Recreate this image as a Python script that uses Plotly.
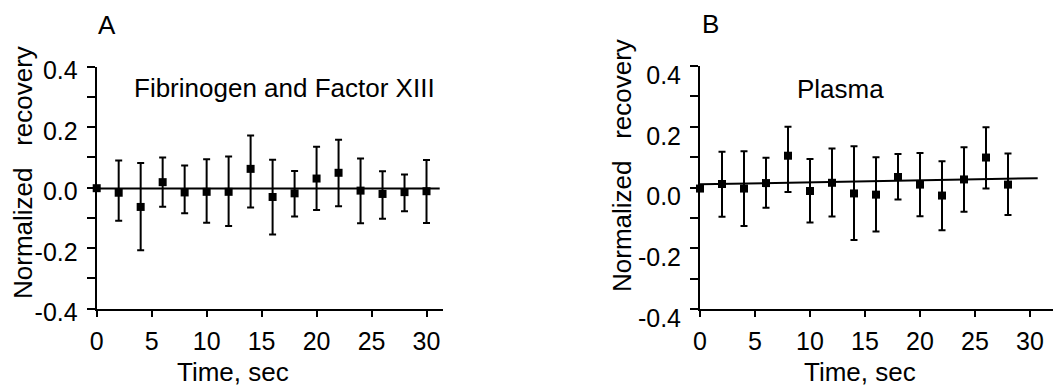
import plotly.graph_objects as go

# ---- data ----
time_a = [0, 2, 4, 6, 8, 10, 12, 14, 16, 18, 20, 22, 24, 26, 28, 30]
mean_a = [-0.002, -0.017, -0.064, 0.018, -0.016, -0.014, -0.014, 0.062, -0.031, -0.019,
          0.030, 0.049, -0.010, -0.021, -0.015, -0.012]
upper_a = [-0.002, 0.090, 0.081, 0.100, 0.073, 0.094, 0.103, 0.172, 0.092, 0.055,
           0.135, 0.158, 0.096, 0.054, 0.043, 0.091]
lower_a = [-0.002, -0.110, -0.207, -0.063, -0.085, -0.116, -0.127, -0.066, -0.155, -0.096,
           -0.074, -0.062, -0.118, -0.103, -0.078, -0.117]
fit_x_a = [0, 31.2]
fit_y_a = [-0.003, -0.003]

time_b = [0, 2, 4, 6, 8, 10, 12, 14, 16, 18, 20, 22, 24, 26, 28]
mean_b = [-0.003, 0.012, -0.003, 0.015, 0.105, -0.011, 0.016, -0.019, -0.023, 0.035,
          0.010, -0.026, 0.027, 0.099, 0.010]
upper_b = [-0.003, 0.118, 0.120, 0.098, 0.200, 0.094, 0.129, 0.136, 0.100, 0.111,
           0.114, 0.087, 0.133, 0.199, 0.112]
lower_b = [-0.003, -0.096, -0.126, -0.066, -0.014, -0.115, -0.095, -0.172, -0.144, -0.039,
           -0.094, -0.140, -0.079, -0.003, -0.090]
fit_x_b = [0, 30.7]
fit_y_b = [0.011, 0.031]

y_tickvals = [-0.4, -0.2, 0.0, 0.2, 0.4]
y_ticktext = ["-0.4", "-0.2", "0.0", "0.2", "0.4"]
x_tickvals = [0, 5, 10, 15, 20, 25, 30]
x_ticktext = ["0", "5", "10", "15", "20", "25", "30"]

FONT = "Liberation Sans, Arial, sans-serif"

# page has an 8px body margin: the figure sits at (8, 8) in the 1061x387 window
OFF = 8
W, H = 1061 - OFF, 387 - OFF


def px(x):
    return (x - OFF) / W


def py(y):
    return (H - (y - OFF)) / H


fig = go.Figure()


def add_panel(xs, ms, up, lo, fx, fy, xa, ya):
    fig.add_trace(go.Scatter(x=fx, y=fy, mode="lines", line=dict(color="black", width=2),
                             xaxis=xa, yaxis=ya, showlegend=False, hoverinfo="skip"))
    fig.add_trace(go.Scatter(
        x=xs, y=ms, mode="markers",
        marker=dict(symbol="square", size=8, color="black"),
        error_y=dict(type="data", symmetric=False,
                     array=[u - m for u, m in zip(up, ms)],
                     arrayminus=[m - l for m, l in zip(ms, lo)],
                     color="black", thickness=2, width=3.5),
        xaxis=xa, yaxis=ya, showlegend=False, cliponaxis=False))


add_panel(time_a, mean_a, upper_a, lower_a, fit_x_a, fit_y_a, "x", "y")
add_panel(time_b, mean_b, upper_b, lower_b, fit_x_b, fit_y_b, "x2", "y2")

xcommon = dict(tickvals=x_tickvals, ticktext=x_ticktext, ticks="outside", ticklen=6,
               tickwidth=2, tickcolor="black", showline=True, linecolor="black", linewidth=2,
               showgrid=False, zeroline=False, automargin=False,
               tickfont=dict(family=FONT, size=25, color="black"),
               ticklabelstandoff=3)
ycommon = dict(range=[-0.4, 0.4], tickvals=y_tickvals, ticktext=y_ticktext, ticks="outside",
               ticklen=8, tickwidth=2, tickcolor="black", showline=True, linecolor="black",
               linewidth=2, showgrid=False, zeroline=False, automargin=False,
               tickfont=dict(family=FONT, size=25, color="black"),
               minor=dict(dtick=0.1, tick0=0, ticks="outside", ticklen=8, tickwidth=2,
                          tickcolor="black", showgrid=False),
               ticklabelstandoff=4)

fig.update_layout(
    width=W, height=H, margin=dict(l=0, r=0, t=0, b=0, autoexpand=False),
    paper_bgcolor="white", plot_bgcolor="white",
    xaxis=dict(domain=[px(96.7), px(443)], range=[0, 31.5], anchor="y", **xcommon),
    yaxis=dict(domain=[py(308.5), py(66.7)], anchor="x", ticklabelshift=4, **ycommon),
    xaxis2=dict(domain=[px(700), px(1059.7)], range=[0, 32.7], anchor="y2", **xcommon),
    yaxis2=dict(domain=[py(309.3), py(66)], anchor="x2", ticklabelshift=9, **ycommon),
)

NB = "\u00a0"
annos = [
    dict(text="A", x=107, y=25, xanchor="center", size=26),
    dict(text="B", x=710, y=24, xanchor="center", size=26),
    dict(text="Fibrinogen and Factor XIII", x=132, y=88, xanchor="left", size=26),
    dict(text="Plasma", x=795, y=89, xanchor="left", size=26),
    dict(text="Time, sec", x=233, y=372, xanchor="center", size=26),
    dict(text="Time, sec", x=860, y=372, xanchor="center", size=26),
]
for a in annos:
    fig.add_annotation(text=a["text"], x=px(a["x"]), y=py(a["y"]), xref="paper", yref="paper",
                       xanchor=a["xanchor"], yanchor="middle", showarrow=False,
                       font=dict(family=FONT, size=a["size"], color="black"))

for xc, yc in [(23, 173), (622, 166)]:
    fig.add_annotation(text="Normalized" + NB * 3 + "recovery", x=px(xc), y=py(yc),
                       xref="paper", yref="paper", xanchor="center", yanchor="middle",
                       textangle=-90, showarrow=False,
                       font=dict(family=FONT, size=26, color="black"))

fig.write_html("out.html")
